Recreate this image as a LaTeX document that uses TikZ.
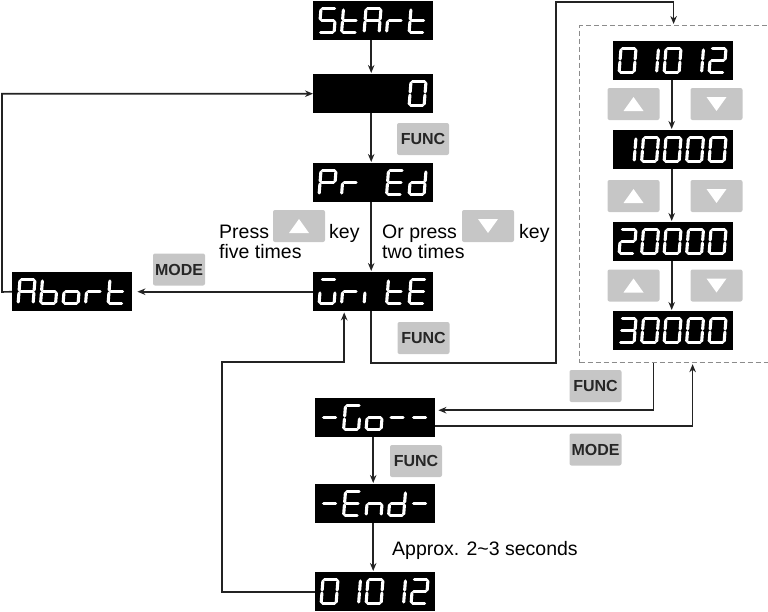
\documentclass[tikz,border=0pt]{standalone}
\usepackage{fontspec}
\setmainfont{Liberation Sans}
\usetikzlibrary{arrows.meta}
\definecolor{keygray}{RGB}{198,198,198}
\definecolor{lncol}{RGB}{35,35,35}
\definecolor{dashcol}{RGB}{140,140,140}
\tikzset{
 disp/.style={fill=black, draw=none, anchor=north west, minimum width=120pt, minimum height=39pt, inner sep=0pt},
 seg/.style={white, line width=3.1pt, line cap=round},
 key/.style={fill=keygray, rounded corners=2pt, minimum width=52pt, minimum height=32pt, inner sep=0pt, font=\bfseries\fontsize{16}{16}\selectfont, text=black!85},
 lbl/.style={font=\fontsize{19.5}{22}\selectfont, inner sep=0pt},
 arr/.style={draw=lncol, line width=1.6pt, -{Stealth[length=8pt,width=6.5pt]}},
 plainln/.style={draw=lncol, line width=1.6pt},
}
\newcommand\sgXa{\draw[seg] (1.5,0)--(13.5,0);}
\newcommand\sgXb{\draw[seg] (15,1.5)--(15,10.5);}
\newcommand\sgXc{\draw[seg] (15,13.5)--(15,22.5);}
\newcommand\sgXd{\draw[seg] (1.5,24)--(13.5,24);}
\newcommand\sgXe{\draw[seg] (0,13.5)--(0,22.5);}
\newcommand\sgXf{\draw[seg] (0,1.5)--(0,10.5);}
\newcommand\sgXg{\draw[seg] (1.5,12)--(13.5,12);}
\newcommand\dg[3]{\begin{scope}[shift={(#1,#2)},xslant=0.08]\foreach \s in {#3}{\csname sgX\s\endcsname}\end{scope}}
\newcommand\disp[8]{%
 \node[disp] (#1) at (#2,#3) {};
 \dg{#2+8}{#3+7.5}{#4}\dg{#2+30.5}{#3+7.5}{#5}\dg{#2+53}{#3+7.5}{#6}\dg{#2+75.5}{#3+7.5}{#7}\dg{#2+98}{#3+7.5}{#8}}
\newcommand\upkey[3]{\node[key] (#1) at (#2,#3) {};
 \fill[white] ([shift={(-10pt,-7pt)}]#1.center) -- ([shift={(10pt,-7pt)}]#1.center) -- ([shift={(0pt,7pt)}]#1.center) -- cycle;}
\newcommand\downkey[3]{\node[key] (#1) at (#2,#3) {};
 \fill[white] ([shift={(-10pt,7pt)}]#1.center) -- ([shift={(10pt,7pt)}]#1.center) -- ([shift={(0pt,-7pt)}]#1.center) -- cycle;}
\begin{document}
\begin{tikzpicture}[x=1pt,y=-1pt]
\useasboundingbox (0,0) rectangle (768,611);
% group box
\node[draw=dashcol, dash pattern=on 5pt off 3pt, line width=1.2pt, minimum width=193pt, minimum height=337pt, inner sep=0pt, anchor=north west] (grp) at (579,25) {};
% displays
\disp{start}{313}{1}{a,f,g,c,d}{f,e,g,d}{a,b,c,e,f,g}{e,g}{f,e,g,d}
\disp{zero}{313}{74}{}{}{}{}{a,b,c,d,e,f}
\disp{pred}{313}{163}{a,b,e,f,g}{e,g}{}{a,d,e,f,g}{b,c,d,e,g}
\disp{write}{313}{272}{a,c,d,e}{e,g}{e}{f,e,g,d}{a,d,e,f,g}
\disp{abort}{12}{272}{a,b,c,e,f,g}{c,d,e,f,g}{c,d,e,g}{e,g}{f,e,g,d}
\disp{b1}{613}{41}{a,b,c,d,e,f}{b,c}{a,b,c,d,e,f}{b,c}{a,b,g,e,d}
\disp{b2}{613}{130}{b,c}{a,b,c,d,e,f}{a,b,c,d,e,f}{a,b,c,d,e,f}{a,b,c,d,e,f}
\disp{b3}{613}{222}{a,b,g,e,d}{a,b,c,d,e,f}{a,b,c,d,e,f}{a,b,c,d,e,f}{a,b,c,d,e,f}
\disp{b4}{613}{311}{a,b,c,d,g}{a,b,c,d,e,f}{a,b,c,d,e,f}{a,b,c,d,e,f}{a,b,c,d,e,f}
\disp{go}{315}{398}{g}{a,f,e,d,c}{c,d,e,g}{g}{g}
\disp{endd}{315}{484}{g}{a,d,e,f,g}{c,e,g}{b,c,d,e,g}{g}
\disp{fin}{315}{572}{a,b,c,d,e,f}{b,c}{a,b,c,d,e,f}{b,c}{a,b,g,e,d}
% keys
\node[key] (f1) at (423,139) {FUNC};
\upkey{pu}{299}{226}
\downkey{pd}{488}{226}
\node[key] (m1) at (179,269.5) {MODE};
\node[key] (f2) at (423.5,338) {FUNC};
\upkey{u1}{633.5}{104}
\downkey{d1}{716.5}{104}
\upkey{u2}{633.5}{196}
\downkey{d2}{716.5}{196}
\upkey{u3}{633.5}{285.5}
\downkey{d3}{716.5}{285.5}
\node[key] (f3) at (595.5,386) {FUNC};
\node[key] (m2) at (595.5,449.5) {MODE};
\node[key] (f4) at (416,461) {FUNC};
% labels
\node[lbl, anchor=base west] (t1) at (219,238) {Press};
\node[lbl, anchor=base west] (t2) at (219,258) {five times};
\node[lbl, anchor=base west] (t3) at (329,238) {key};
\node[lbl, anchor=base west] (t4) at (382,238) {Or press};
\node[lbl, anchor=base west] (t5) at (382,258) {two times};
\node[lbl, anchor=base west] (t6) at (519,238) {key};
\node[lbl, anchor=base west] (t7) at (392,555) {Approx. 2\textasciitilde3 seconds};
% connectors
\draw[arr, shorten >=1pt] ([xshift=-2pt]start.south) -- ([xshift=-2pt]zero.north);
\draw[arr, shorten >=1pt] ([xshift=-2pt]zero.south) -- ([xshift=-2pt]pred.north);
\draw[arr, shorten >=1pt] ([xshift=-2pt]pred.south) -- ([xshift=-2pt]write.north);
\draw[arr, shorten >=5pt] (write.west) -- (abort.east);
\coordinate (al) at (2,292);
\draw[arr] (abort.west) -- (al) |- (zero.west);
\coordinate (r1) at (556,363);
\coordinate (r2) at (556,2);
\draw[arr, shorten >=1pt] ([xshift=-2pt]write.south) |- (r1) -- (r2) -| ([xshift=-2.5pt]grp.north);
\coordinate (l1) at (222,362);
\draw[arr, shorten >=1pt] (fin.west) -| (l1) -| ([xshift=-29pt]write.south);
\draw[arr, shorten >=1pt] ([xshift=-1.5pt]b1.south) -- ([xshift=-1.5pt]b2.north);
\draw[arr, shorten >=1pt] ([xshift=-1.5pt]b2.south) -- ([xshift=-1.5pt]b3.north);
\draw[arr, shorten >=1pt] ([xshift=-1.5pt]b3.south) -- ([xshift=-1.5pt]b4.north);
\draw[arr, shorten >=3pt] ([xshift=-22.5pt]grp.south) |- ([yshift=7.5pt]go.east);
\draw[arr, shorten >=1pt] ([yshift=-8.5pt]go.east) -| ([xshift=16.5pt]grp.south);
\draw[arr, shorten >=1pt] ([xshift=-2pt]go.south) -- ([xshift=-2pt]endd.north);
\draw[arr, shorten >=1pt] ([xshift=-2pt]endd.south) -- ([xshift=-2pt]fin.north);
\end{tikzpicture}
\end{document}
